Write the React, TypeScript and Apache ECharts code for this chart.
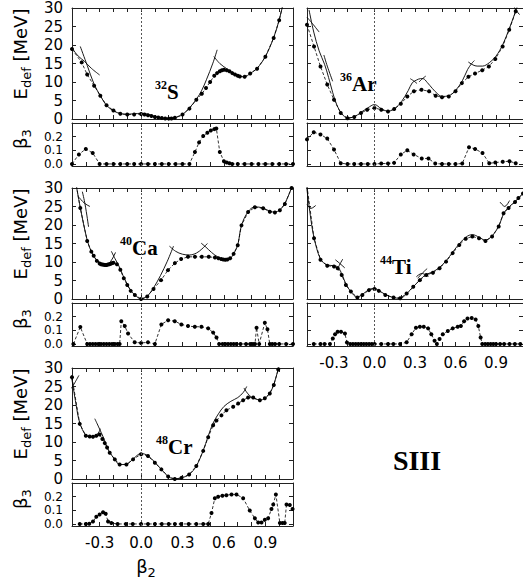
import React, { useEffect, useRef } from "react";
import * as echarts from "echarts";

type P = [number, number];

// ---------------- data ----------------
const xTickLabels = ["-0.3", "0.0", "0.3", "0.6", "0.9"];
const b3TickValues = [0, 0.1, 0.2];
const b3LabelsA = [0, 0.2];
const b3LabelsB = [0.1];

// 32S
const S_E: P[] = [[-0.5,18.9],[-0.43,15.3],[-0.39,12.0],[-0.34,9.0],[-0.295,6.3],[-0.25,3.7],[-0.2,2.3],[-0.15,1.4],[-0.1,1.2],[-0.05,1.2],[0,1.35],[0.025,1.2],[0.05,1.0],[0.075,0.8],[0.1,0.55],[0.125,0.4],[0.15,0.27],[0.175,0.15],[0.2,0.1],[0.22,0.15],[0.245,0.36],[0.3,1.2],[0.35,2.8],[0.4,5.2],[0.44,6.8],[0.47,8.4],[0.5,10.0],[0.53,11.7],[0.55,12.4],[0.57,12.9],[0.585,13.2],[0.6,13.3],[0.62,13.2],[0.64,12.9],[0.66,12.4],[0.68,12.0],[0.7,11.7],[0.715,11.5],[0.75,11.4],[0.79,12.3],[0.84,13.6],[0.9,16.8],[0.96,21.9],[1.0,26.7],[1.04,33]];
const S_SOLID: P[][] = [
  [[-0.44,19.6],[-0.39,14.5],[-0.34,9.4],[-0.295,6.3],[-0.25,3.7],[-0.2,2.2],[-0.15,1.45],[-0.1,1.3],[-0.05,1.4],[0,1.55],[0.05,1.3],[0.1,0.7],[0.15,0.3],[0.2,0.1],[0.245,0.35],[0.3,1.2],[0.35,3.0],[0.4,5.3],[0.44,7.8],[0.473,10.6],[0.52,15.1],[0.551,18.7]],
  [[-0.5,19.2],[-0.455,17.0],[-0.41,15.6],[-0.36,13.7],[-0.3,11.9]],
  [[0.527,16.9],[0.57,15.0],[0.62,13.6],[0.67,12.3],[0.715,11.6],[0.75,11.4],[0.79,12.3],[0.84,13.7],[0.9,16.9],[0.96,22.0],[1.0,26.8],[1.04,33]],
];
const S_B3: P[] = [[-0.5,0],[-0.45,0.07],[-0.4,0.11],[-0.35,0.08],[-0.3,0],[-0.25,0],[-0.2,0],[-0.15,0],[-0.1,0],[-0.05,0],[0,0],[0.05,0],[0.1,0],[0.15,0],[0.2,0],[0.25,0],[0.3,0],[0.35,0],[0.39,0.087],[0.42,0.158],[0.45,0.205],[0.48,0.228],[0.505,0.245],[0.53,0.255],[0.545,0.26],[0.57,0.087],[0.6,0.02],[0.62,0.01],[0.64,0.005],[0.66,0],[0.7,0],[0.75,0],[0.8,0],[0.85,0],[0.9,0],[0.95,0],[1.0,0],[1.05,0],[1.1,0]];

// 36Ar
const AR_E: P[] = [[-0.5,25.5],[-0.448,19.6],[-0.4,14.2],[-0.35,9.3],[-0.3,5.2],[-0.25,1.6],[-0.2,0.2],[-0.15,0.54],[-0.1,1.6],[-0.054,2.5],[0,3.0],[0.05,2.5],[0.1,2.0],[0.146,2.7],[0.195,4.1],[0.243,6.1],[0.292,7.5],[0.348,7.9],[0.404,7.5],[0.453,6.3],[0.5,5.9],[0.55,6.1],[0.6,7.5],[0.647,9.7],[0.696,11.4],[0.745,12.3],[0.798,13.2],[0.847,14.2],[0.895,16.2],[0.949,19.6],[0.998,24.1],[1.046,29.1]];
const AR_SOLID: P[][] = [
  [[-0.485,29.5],[-0.45,23.5],[-0.41,18.4],[-0.37,14.8],[-0.34,11.2],[-0.31,7.2],[-0.28,3.9],[-0.24,1.3],[-0.2,0.3],[-0.15,0.6],[-0.1,1.8],[-0.05,3.0],[0,3.9],[0.05,2.8],[0.1,2.1],[0.15,2.8],[0.2,4.7],[0.25,7.7],[0.28,9.8],[0.31,10.5],[0.34,10.9],[0.36,10.9],[0.39,9.9],[0.43,8.2],[0.47,6.7],[0.5,6.1],[0.55,6.3],[0.6,7.7],[0.65,10.3],[0.69,13.4],[0.72,15.0],[0.74,15.8]],
  [[-0.5,27.5],[-0.46,25.8],[-0.41,23.5]],
  [[-0.375,17.3],[-0.35,14.3],[-0.31,10.2]],
  [[0.265,10.9],[0.29,10.3],[0.315,9.6]],
  [[0.33,10.0],[0.355,10.9],[0.38,11.6]],
  [[0.695,15.4],[0.73,14.6],[0.76,14.3],[0.8,14.3],[0.85,15.2],[0.9,17.0],[0.95,20.1],[1.0,24.6],[1.05,29.6],[1.08,33]],
  [[1.02,31.5],[1.045,29.6],[1.075,28.2]],
];
const AR_B3: P[] = [[-0.5,0.18],[-0.45,0.233],[-0.4,0.216],[-0.35,0.186],[-0.3,0.106],[-0.25,0.005],[-0.2,0],[-0.15,0],[-0.1,0],[-0.05,0],[0,0],[0.05,0.003],[0.1,0.003],[0.145,0.008],[0.195,0.07],[0.243,0.1],[0.29,0.07],[0.35,0.04],[0.4,0.04],[0.45,0.003],[0.5,0],[0.55,0],[0.6,0],[0.65,0.003],[0.7,0.122],[0.745,0.11],[0.8,0.08],[0.85,0.005],[0.895,0.01],[0.95,0.016],[1.0,0.02],[1.046,0.005]];

// 40Ca
const CA_E: P[] = [[-0.475,32],[-0.44,24.6],[-0.39,15.7],[-0.36,12.8],[-0.343,11.7],[-0.32,10.3],[-0.3,9.6],[-0.29,9.4],[-0.28,9.3],[-0.27,9.25],[-0.26,9.2],[-0.25,9.2],[-0.24,9.3],[-0.23,9.4],[-0.22,9.5],[-0.21,9.7],[-0.2,9.8],[-0.175,9.4],[-0.15,7.9],[-0.125,5.6],[-0.1,3.8],[-0.075,2.2],[-0.045,1.1],[0,0],[0.045,0.7],[0.09,2.7],[0.145,5.1],[0.195,7.8],[0.245,9.7],[0.29,10.8],[0.34,11.4],[0.39,11.4],[0.44,11.4],[0.49,11.4],[0.535,11.2],[0.56,11.0],[0.58,10.8],[0.595,10.7],[0.61,10.6],[0.625,10.7],[0.645,11.0],[0.67,12.2],[0.7,14.5],[0.727,19.9],[0.775,23.5],[0.824,24.8],[0.884,24.5],[0.932,23.6],[0.969,23.4],[1.005,24.0],[1.041,25.7],[1.09,30.0]];
const CA_SOLID: P[][] = [
  [[-0.475,32],[-0.44,24.7],[-0.39,15.9],[-0.36,12.8],[-0.33,10.9],[-0.3,9.9],[-0.27,9.4],[-0.24,9.5],[-0.22,10.2],[-0.2,11.4],[-0.185,12.6]],
  [[-0.425,29],[-0.405,25.5],[-0.38,19.5]],
  [[-0.45,27.5],[-0.41,25.9],[-0.37,25.0]],
  [[-0.215,12.9],[-0.19,11.0],[-0.16,8.9],[-0.13,6.3],[-0.1,4.0],[-0.075,2.3],[-0.045,1.1],[0,0],[0.045,0.8],[0.09,3.0],[0.14,6.3],[0.19,10.2],[0.235,14.3]],
  [[0.205,14.3],[0.25,12.9],[0.3,12.1],[0.35,11.9],[0.4,12.4],[0.44,13.5],[0.48,15.0]],
  [[0.435,15.1],[0.47,14.0],[0.51,12.6],[0.55,11.5],[0.6,10.7],[0.645,11.0],[0.67,12.2],[0.7,14.6],[0.727,19.9],[0.775,23.6],[0.824,24.9],[0.884,24.6],[0.932,23.7],[0.969,23.5],[1.005,24.1],[1.041,25.8],[1.09,30.1]],
];
const CA_B3: P[] = [[-0.49,0],[-0.44,0.124],[-0.39,0],[-0.37,0],[-0.35,0],[-0.33,0],[-0.31,0],[-0.29,0],[-0.27,0],[-0.25,0],[-0.23,0],[-0.21,0],[-0.19,0],[-0.17,0],[-0.155,0],[-0.143,0.167],[-0.118,0.131],[-0.094,0.076],[-0.046,0.012],[0,0.007],[0.05,0.012],[0.1,0],[0.147,0.143],[0.196,0.174],[0.244,0.167],[0.292,0.143],[0.34,0.131],[0.389,0.126],[0.437,0.126],[0.486,0.114],[0.522,0.083],[0.546,0.048],[0.565,0],[0.59,0],[0.61,0],[0.63,0],[0.65,0],[0.67,0],[0.69,0],[0.72,0],[0.76,0],[0.79,0],[0.81,0],[0.825,0],[0.836,0.119],[0.855,0],[0.896,0.155],[0.915,0.107],[0.932,0],[0.95,0],[0.97,0],[1.0,0],[1.05,0],[1.1,0]];

// 44Ti
const TI_E: P[] = [[-0.5,30.5],[-0.448,16.4],[-0.4,10.6],[-0.35,9.0],[-0.3,8.8],[-0.273,8.3],[-0.243,6.5],[-0.212,3.8],[-0.175,2.0],[-0.127,0.4],[-0.09,1.1],[-0.041,2.4],[0,2.7],[0.032,2.2],[0.08,1.1],[0.141,0.4],[0.19,0.2],[0.238,1.5],[0.287,3.3],[0.336,5.1],[0.384,6.5],[0.433,7.1],[0.482,8.3],[0.53,10.1],[0.579,12.4],[0.628,14.6],[0.676,16.3],[0.725,16.9],[0.774,16.4],[0.822,15.7],[0.871,16.9],[0.92,19.6],[0.956,23.2],[0.993,24.6],[1.041,26.2],[1.066,27.3],[1.1,28.5]];
const TI_SOLID: P[][] = [
  [[-0.505,31],[-0.475,22.5],[-0.448,16.6],[-0.4,10.8],[-0.35,9.2],[-0.3,9.0],[-0.27,8.6],[-0.24,6.6],[-0.21,3.9],[-0.175,2.0],[-0.13,0.5],[-0.09,1.2],[-0.04,2.6],[0,2.9],[0.03,2.4],[0.08,1.2],[0.14,0.4],[0.19,0.2],[0.24,1.5],[0.29,3.4],[0.34,5.3],[0.38,6.6],[0.43,7.3],[0.48,8.5],[0.53,10.3],[0.58,12.7],[0.63,15.0],[0.68,16.8],[0.725,17.4],[0.775,16.7],[0.82,15.9],[0.87,17.0],[0.92,19.7],[0.96,23.3],[1.0,25.0],[1.04,26.3],[1.1,28.5]],
  [[-0.5,25.5],[-0.47,24.5],[-0.435,25.3]],
  [[-0.29,10.6],[-0.26,9.7],[-0.22,8.4]],
  [[-0.275,8.0],[-0.255,9.5],[-0.235,10.8]],
  [[0.31,6.0],[0.35,6.9],[0.4,6.1]],
  [[0.32,5.6],[0.36,7.2],[0.39,8.2]],
  [[0.93,26.2],[0.965,25.0],[1.0,26.6]],
];
const TI_B3: P[] = [[-0.45,0],[-0.4,0],[-0.37,0],[-0.33,0],[-0.309,0.04],[-0.292,0.071],[-0.273,0.09],[-0.248,0.09],[-0.219,0.076],[-0.204,0.01],[-0.18,0],[-0.16,0],[-0.14,0],[-0.12,0],[-0.1,0],[-0.08,0],[-0.06,0],[-0.04,0],[-0.02,0],[0,0],[0.05,0],[0.1,0],[0.14,0],[0.19,0],[0.238,0.012],[0.275,0.071],[0.307,0.119],[0.336,0.126],[0.365,0.126],[0.397,0.114],[0.421,0.071],[0.445,0.024],[0.462,0],[0.482,0.036],[0.506,0.071],[0.543,0.095],[0.579,0.114],[0.616,0.126],[0.64,0.131],[0.664,0.167],[0.689,0.186],[0.72,0.19],[0.749,0.179],[0.769,0.131],[0.786,0.048],[0.798,0],[0.82,0],[0.84,0],[0.86,0],[0.88,0],[0.9,0],[0.93,0],[0.96,0],[1.0,0],[1.04,0],[1.08,0]];

// 48Cr
const CR_E: P[] = [[-0.5,27.5],[-0.444,14.9],[-0.4,11.7],[-0.372,11.5],[-0.348,11.4],[-0.324,11.7],[-0.3,12.0],[-0.28,10.8],[-0.263,9.7],[-0.246,8.5],[-0.227,7.1],[-0.19,5.3],[-0.155,3.9],[-0.106,3.9],[-0.058,5.3],[0,6.7],[0.05,6.2],[0.1,4.4],[0.147,2.6],[0.196,0.7],[0.244,0],[0.292,0.3],[0.348,1.2],[0.4,3.5],[0.45,7.6],[0.486,11.3],[0.522,14.5],[0.546,15.8],[0.582,17.2],[0.618,18.6],[0.667,19.5],[0.703,20.4],[0.739,21.3],[0.775,22.0],[0.812,22.0],[0.86,21.3],[0.896,21.8],[0.932,23.1],[0.961,25.4],[0.993,29.6],[1.02,33]];
const CR_SOLID: P[][] = [
  [[-0.505,28],[-0.47,20],[-0.444,15.2],[-0.4,11.8],[-0.37,11.5],[-0.34,11.6],[-0.31,12.4],[-0.295,13.6]],
  [[-0.335,16.3],[-0.31,14.3],[-0.27,11.0],[-0.246,8.6],[-0.227,7.2],[-0.19,5.3],[-0.155,3.9],[-0.106,4.0],[-0.058,5.4],[0,6.9],[0.05,6.3],[0.1,4.5],[0.147,2.6],[0.196,0.7],[0.244,0],[0.292,0.3],[0.348,1.2],[0.4,3.5],[0.45,7.7],[0.486,11.6],[0.52,15.0],[0.56,17.6],[0.6,19.6],[0.65,21.0],[0.7,22.0],[0.74,23.4],[0.765,25.0]],
  [[-0.505,24.5],[-0.48,26.0],[-0.45,28.0]],
  [[0.745,24.6],[0.77,23.2],[0.8,22.1],[0.84,21.5],[0.87,21.4],[0.9,21.9],[0.932,23.2],[0.961,25.5],[0.993,29.7],[1.02,33]],
];
const CR_B3: P[] = [[-0.444,0],[-0.4,0],[-0.375,0.002],[-0.348,0.018],[-0.324,0.052],[-0.3,0.07],[-0.275,0.086],[-0.256,0.075],[-0.239,0.018],[-0.215,0.007],[-0.17,0],[-0.11,0],[-0.06,0],[0,0],[0.05,0],[0.1,0],[0.15,0],[0.2,0],[0.245,0],[0.29,0],[0.345,0],[0.4,0],[0.45,0],[0.486,0],[0.51,0.08],[0.534,0.189],[0.558,0.2],[0.589,0.207],[0.618,0.211],[0.655,0.216],[0.691,0.216],[0.739,0.189],[0.787,0.098],[0.824,0.041],[0.848,0.011],[0.872,0.011],[0.896,0.03],[0.92,0.041],[0.944,0.109],[0.957,0.143],[0.976,0.216],[1.005,0.007],[1.024,0.007],[1.04,0.007],[1.053,0.143],[1.077,0.139],[1.097,0.109]];

// ---------------- layout / styles ----------------
const SANS = "'DejaVu Sans', sans-serif";
const SERIF = "'Liberation Serif', 'Times New Roman', serif";
const FRAME = "#222";

interface Panel { mass: string; sym: string; col: number; row: number; E: P[]; solid: P[][]; b3: P[]; lx: number; ly: number; }
const panels: Panel[] = [
  { mass: "32", sym: "S", col: 0, row: 0, E: S_E, solid: S_SOLID, b3: S_B3, lx: 155, ly: 92 },
  { mass: "36", sym: "Ar", col: 1, row: 0, E: AR_E, solid: AR_SOLID, b3: AR_B3, lx: 340, ly: 84 },
  { mass: "40", sym: "Ca", col: 0, row: 1, E: CA_E, solid: CA_SOLID, b3: CA_B3, lx: 120, ly: 248 },
  { mass: "44", sym: "Ti", col: 1, row: 1, E: TI_E, solid: TI_SOLID, b3: TI_B3, lx: 380, ly: 267 },
  { mass: "48", sym: "Cr", col: 0, row: 2, E: CR_E, solid: CR_SOLID, b3: CR_B3, lx: 156, ly: 447 },
];

function xFmt(v: number) {
  const s = (Math.round(v * 10) / 10).toFixed(1);
  return xTickLabels.includes(s) ? s : "";
}

function xAxisCfg(g: number, pos: string, show: boolean) {
  return {
    type: "value", gridIndex: g, position: pos, min: -0.5, max: 1.1, interval: 0.1,
    axisLine: { show: true, onZero: false, lineStyle: { color: FRAME, width: 1 } },
    axisTick: { show: true, inside: true, length: 4, lineStyle: { color: FRAME } },
    axisLabel: { show, formatter: xFmt, fontSize: 15, fontFamily: SANS, color: "#000", margin: 9, showMinLabel: false, showMaxLabel: false },
    splitLine: { show: false },
  };
}

function yAxisCfg(g: number, pos: string, kind: string, show: boolean, labelVals?: number[], lineOn = true) {
  const base: any = {
    type: "value", gridIndex: g, position: pos,
    axisLine: { show: lineOn, onZero: false, lineStyle: { color: FRAME, width: 1 } },
    axisTick: { show: lineOn, inside: true, length: 4, lineStyle: { color: FRAME } },
    axisLabel: { show, fontSize: 15, fontFamily: SANS, color: "#000", margin: 9 },
    splitLine: { show: false },
  };
  if (kind === "E") {
    base.min = 0; base.max = 30; base.interval = 5;
  } else {
    base.min = -0.015; base.max = 0.3;
    base.axisTick.customValues = b3TickValues;
    base.axisLabel.customValues = labelVals || b3TickValues;
    base.axisLabel.interval = 0;
    base.axisLabel.hideOverlap = false;
    base.axisLabel.fontSize = 12;
    base.axisLabel.lineHeight = 12;
    base.axisLabel.formatter = (v: number) => v.toFixed(1);
  }
  return base;
}

function dotSeries(data: P[], xi: number, yi: number) {
  return {
    type: "line", xAxisIndex: xi, yAxisIndex: yi, data,
    symbol: "circle", symbolSize: 4, showSymbol: true, z: 3,
    lineStyle: { color: "#000", width: 0.8, type: [3, 2] },
    itemStyle: { color: "#000" },
    markLine: {
      silent: true, symbol: ["none", "none"], label: { show: false },
      lineStyle: { type: [2, 2], color: "#555", width: 1 },
      data: [{ xAxis: 0 }],
    },
  };
}

function solidSeries(data: P[], xi: number, yi: number) {
  return {
    type: "line", xAxisIndex: xi, yAxisIndex: yi, data, z: 2,
    symbol: "none", showSymbol: false, smooth: 0.35,
    lineStyle: { color: "#000", width: 0.9 },
  };
}

function buildOption() {
  const grid: any[] = [], xAxis: any[] = [], yAxis: any[] = [], series: any[] = [];
  panels.forEach((p) => {
    const left = p.col === 0 ? 72 : 307;
    const top = 8 + 180 * p.row;
    const bottomRow = (p.col === 0 && p.row === 2) || (p.col === 1 && p.row === 1);
    [{ kind: "E", top, h: 111 }, { kind: "B", top: top + 115, h: 43 }].forEach((sub) => {
      const g = grid.length;
      grid.push({ left, top: sub.top, width: 221, height: sub.h, containLabel: false });
      const xi = xAxis.length;
      xAxis.push(xAxisCfg(g, "bottom", sub.kind === "B" && bottomRow), xAxisCfg(g, "top", false));
      const yi = yAxis.length;
      const showY = p.col === 0;
      if (sub.kind === "E") {
        yAxis.push(yAxisCfg(g, "left", "E", showY), yAxisCfg(g, "right", "E", false));
        p.solid.forEach((seg) => series.push(solidSeries(seg, xi, yi)));
        series.push(dotSeries(p.E, xi, yi));
      } else {
        yAxis.push(
          yAxisCfg(g, "left", "B", showY, b3LabelsA),
          yAxisCfg(g, "right", "B", false),
          yAxisCfg(g, "left", "B", showY, b3LabelsB, false),
        );
        series.push(dotSeries(p.b3, xi, yi));
      }
    });
  });

  const rich = {
    m: { fontSize: 18, fontFamily: SANS, fill: "#000", color: "#000" },
    s: { fontSize: 13, fontFamily: SANS, fill: "#000", color: "#000", padding: [12, 0, 0, 0] },
  };
  const graphic: any[] = [];
  for (let r = 0; r < 3; r++) {
    graphic.push({ type: "text", x: 20, y: 54 + 180 * r, rotation: Math.PI / 2,
      style: { text: "{m|E}{s|def}{m| [MeV]}", rich, align: "center", verticalAlign: "middle", fill: "#000" } });
    graphic.push({ type: "text", x: 20, y: 139 + 180 * r, rotation: Math.PI / 2,
      style: { text: "{m|β}{s|3}", rich, align: "center", verticalAlign: "middle", fill: "#000" } });
  }
  graphic.push({ type: "text", x: 146, y: 566,
    style: { text: "{m|β}{s|2}", rich, align: "center", verticalAlign: "middle", fill: "#000" } });
  panels.forEach((p) => {
    graphic.push({ type: "text", x: p.lx, y: p.ly - 7,
      style: { text: p.mass, fontSize: 12, fontWeight: "bold", fontFamily: SERIF, fill: "#000", align: "left", verticalAlign: "middle" } });
    graphic.push({ type: "text", x: p.lx + 12, y: p.ly,
      style: { text: p.sym, fontSize: 21, fontWeight: "bold", fontFamily: SERIF, fill: "#000", align: "left", verticalAlign: "middle" } });
  });
  graphic.push({ type: "text", x: 417, y: 460,
    style: { text: "SIII", fontSize: 28, fontWeight: "bold", fontFamily: SERIF, fill: "#000", align: "center", verticalAlign: "middle" } });

  return { animation: false, backgroundColor: "#fff", grid, xAxis, yAxis, series, graphic };
}

export default function App() {
  const ref = useRef<HTMLDivElement>(null);
  useEffect(() => {
    if (!ref.current) return;
    const chart = echarts.init(ref.current, undefined, { renderer: "svg" });
    chart.setOption(buildOption() as any);
    return () => chart.dispose();
  }, []);
  return (
    <div ref={ref} style={{ position: "absolute", left: 0, top: 0, width: 523, height: 584, background: "#fff" }} />
  );
}
